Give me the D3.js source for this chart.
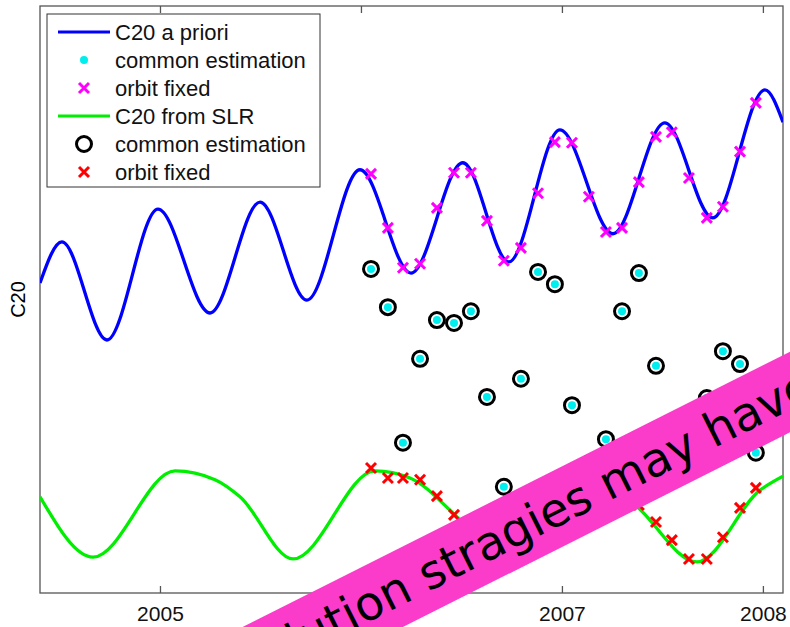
<!DOCTYPE html>
<html><head><meta charset="utf-8">
<script src="https://cdn.jsdelivr.net/npm/d3@7"></script>
<style>body{margin:0;background:#fff}text{font-family:"Liberation Sans",Arial,sans-serif}</style>
</head><body><svg id="chart" width="790" height="627"></svg>
<script>
// C20 curves (relative units) at decimal years
var aprioriYears = [2004.403,2004.512,2004.736,2004.990,2005.249,2005.498,2005.731,2005.995,2006.249,2006.507,2006.736,2006.990,2007.254,2007.512,2007.751,2008.010,2008.100];
var aprioriVals  = [52.8,59.8,43.1,65.4,47.7,66.6,49.9,72.1,54.5,73.3,56.4,78.9,61.2,80.1,63.9,85.7,80.2];
var slrYears = [2004.403,2004.667,2005.075,2005.274,2005.398,2005.662,2006.070,2006.244,2006.468,2006.677,2007.090,2007.353,2007.672,2007.985,2008.100];
var slrVals  = [16.4,6.1,20.8,19.3,16.4,5.8,20.8,19.6,13.3,6.1,20.1,15.3,5.3,17.5,19.9];

var sampleYears = [2006.050,2006.134,2006.209,2006.294,2006.378,2006.463,2006.547,2006.627,2006.711,2006.796,2006.881,2006.965,2007.050,2007.134,2007.219,2007.299,2007.383,2007.468,2007.547,2007.632,2007.721,2007.801,2007.886,2007.965];
var aprioriFixed = [71.4,62.2,55.4,56.1,65.6,71.6,71.6,63.4,56.6,58.8,68.1,76.8,76.7,67.5,61.5,62.2,70.0,77.7,78.5,70.7,63.9,65.8,75.2,83.5];
var commonEst    = [55.2,48.7,25.6,39.9,46.5,46.0,48.0,33.4,18.1,36.5,54.7,52.6,32.0,22.1,26.2,48.0,54.5,38.7,24.0,28.0,33.2,41.2,39.0,23.9];
var slrFixed     = [21.3,19.6,19.6,19.3,16.5,13.3,10.2,7.3,6.1,7.2,13.3,17.5,19.8,19.8,18.4,16.7,15.0,12.1,9.0,5.8,5.8,9.5,14.5,17.9];

var xTicks = [2005,2006,2007,2008];
var xTickLabels = ["2005","","2007","2008"];
var legendItems = [
  {label:"C20 a priori", kind:"line", color:"#0000ff"},
  {label:"common estimation", kind:"dot", color:"#00eeee"},
  {label:"orbit fixed", kind:"cross", color:"#ff00ff"},
  {label:"C20 from SLR", kind:"line", color:"#00ee00"},
  {label:"common estimation", kind:"circle", color:"#000"},
  {label:"orbit fixed", kind:"cross", color:"#ff0000"}
];
var bannerText = "Different resolution stragies may have";

var margin = {top: 6, right: 7, bottom: 34, left: 40},
    width = 790 - margin.left - margin.right,
    height = 627 - margin.top - margin.bottom;

var svg = d3.select("#chart");
var g = svg.append("g").attr("transform", "translate(" + margin.left + "," + margin.top + ")");

var x = d3.scaleLinear().domain([2004.403, 2008.1]).range([0, width]);
var y = d3.scaleLinear().domain([0, 100]).range([height, 0]);

function cross(sel, cx, cy, s, color) {
  sel.append("path")
    .attr("d", "M" + (cx - s) + "," + (cy - s) + "L" + (cx + s) + "," + (cy + s) + "M" + (cx - s) + "," + (cy + s) + "L" + (cx + s) + "," + (cy - s))
    .attr("stroke", color).attr("stroke-width", 3).attr("fill", "none");
}

// frame and axes
g.append("rect").attr("width", width).attr("height", height).attr("fill", "none").attr("stroke", "#555").attr("stroke-width", 1.3);
var xb = g.append("g").attr("transform", "translate(0," + height + ")")
  .call(d3.axisBottom(x).tickValues(xTicks).tickSize(-7).tickPadding(13).tickFormat(function(d, i) { return xTickLabels[i]; }));
var xt = g.append("g").call(d3.axisTop(x).tickValues(xTicks).tickSize(-7).tickFormat(""));
[xb, xt].forEach(function(a) {
  a.select(".domain").remove();
  a.selectAll("line").attr("stroke", "#555").attr("stroke-width", 1.3);
  a.selectAll("text").attr("font-size", 21).attr("fill", "#111").style("font-family", "Liberation Sans, Arial, sans-serif");
});
svg.append("text").attr("transform", "translate(25," + (margin.top + height / 2) + ") rotate(-90)")
  .attr("text-anchor", "middle").attr("font-size", 20).text("C20");

var clip = g.append("clipPath").attr("id", "clip").append("rect").attr("width", width).attr("height", height);
var plot = g.append("g").attr("clip-path", "url(#clip)");

var line = d3.line().x(function(d) { return x(d[0]); }).y(function(d) { return y(d[1]); }).curve(d3.curveMonotoneX);
plot.append("path").datum(d3.zip(aprioriYears, aprioriVals)).attr("d", line)
  .attr("fill", "none").attr("stroke", "#0000ff").attr("stroke-width", 3.3);
plot.append("path").datum(d3.zip(slrYears, slrVals)).attr("d", line)
  .attr("fill", "none").attr("stroke", "#00ee00").attr("stroke-width", 3.3);

sampleYears.forEach(function(t, i) {
  cross(plot, x(t), y(aprioriFixed[i]), 5, "#ff00ff");
  cross(plot, x(t), y(slrFixed[i]), 5, "#ff0000");
  plot.append("circle").attr("cx", x(t)).attr("cy", y(commonEst[i])).attr("r", 7.5)
    .attr("fill", "#fff").attr("stroke", "#000").attr("stroke-width", 3);
  plot.append("circle").attr("cx", x(t)).attr("cy", y(commonEst[i])).attr("r", 4).attr("fill", "#00eeee");
});

// legend
var lg = svg.append("g").attr("transform", "translate(47,14)");
lg.append("rect").attr("width", 273).attr("height", 173).attr("fill", "#fff").attr("stroke", "#333").attr("stroke-width", 1);
legendItems.forEach(function(it, i) {
  var ly = 18 + i * 28;
  if (it.kind === "line") lg.append("line").attr("x1", 11).attr("x2", 63).attr("y1", ly).attr("y2", ly).attr("stroke", it.color).attr("stroke-width", 3);
  if (it.kind === "dot") lg.append("circle").attr("cx", 37).attr("cy", ly).attr("r", 4).attr("fill", it.color);
  if (it.kind === "cross") cross(lg, 37, ly, 5, it.color);
  if (it.kind === "circle") lg.append("circle").attr("cx", 37).attr("cy", ly).attr("r", 7.5).attr("fill", "none").attr("stroke", "#000").attr("stroke-width", 3);
  lg.append("text").attr("x", 68).attr("y", ly + 8).attr("font-size", 22).attr("fill", "#111").text(it.label);
});

// banner
var bn = svg.append("g").attr("transform", "translate(790,392) rotate(-26.7)");
bn.append("rect").attr("x", -1400).attr("y", -36).attr("width", 1600).attr("height", 72).attr("fill", "#fb3ccb");
bn.append("text").attr("x", 22).attr("y", 16).attr("text-anchor", "end").attr("font-size", 47)
  .style("font-family", "DejaVu Sans, sans-serif").attr("fill", "#000").text(bannerText);
</script></body></html>
